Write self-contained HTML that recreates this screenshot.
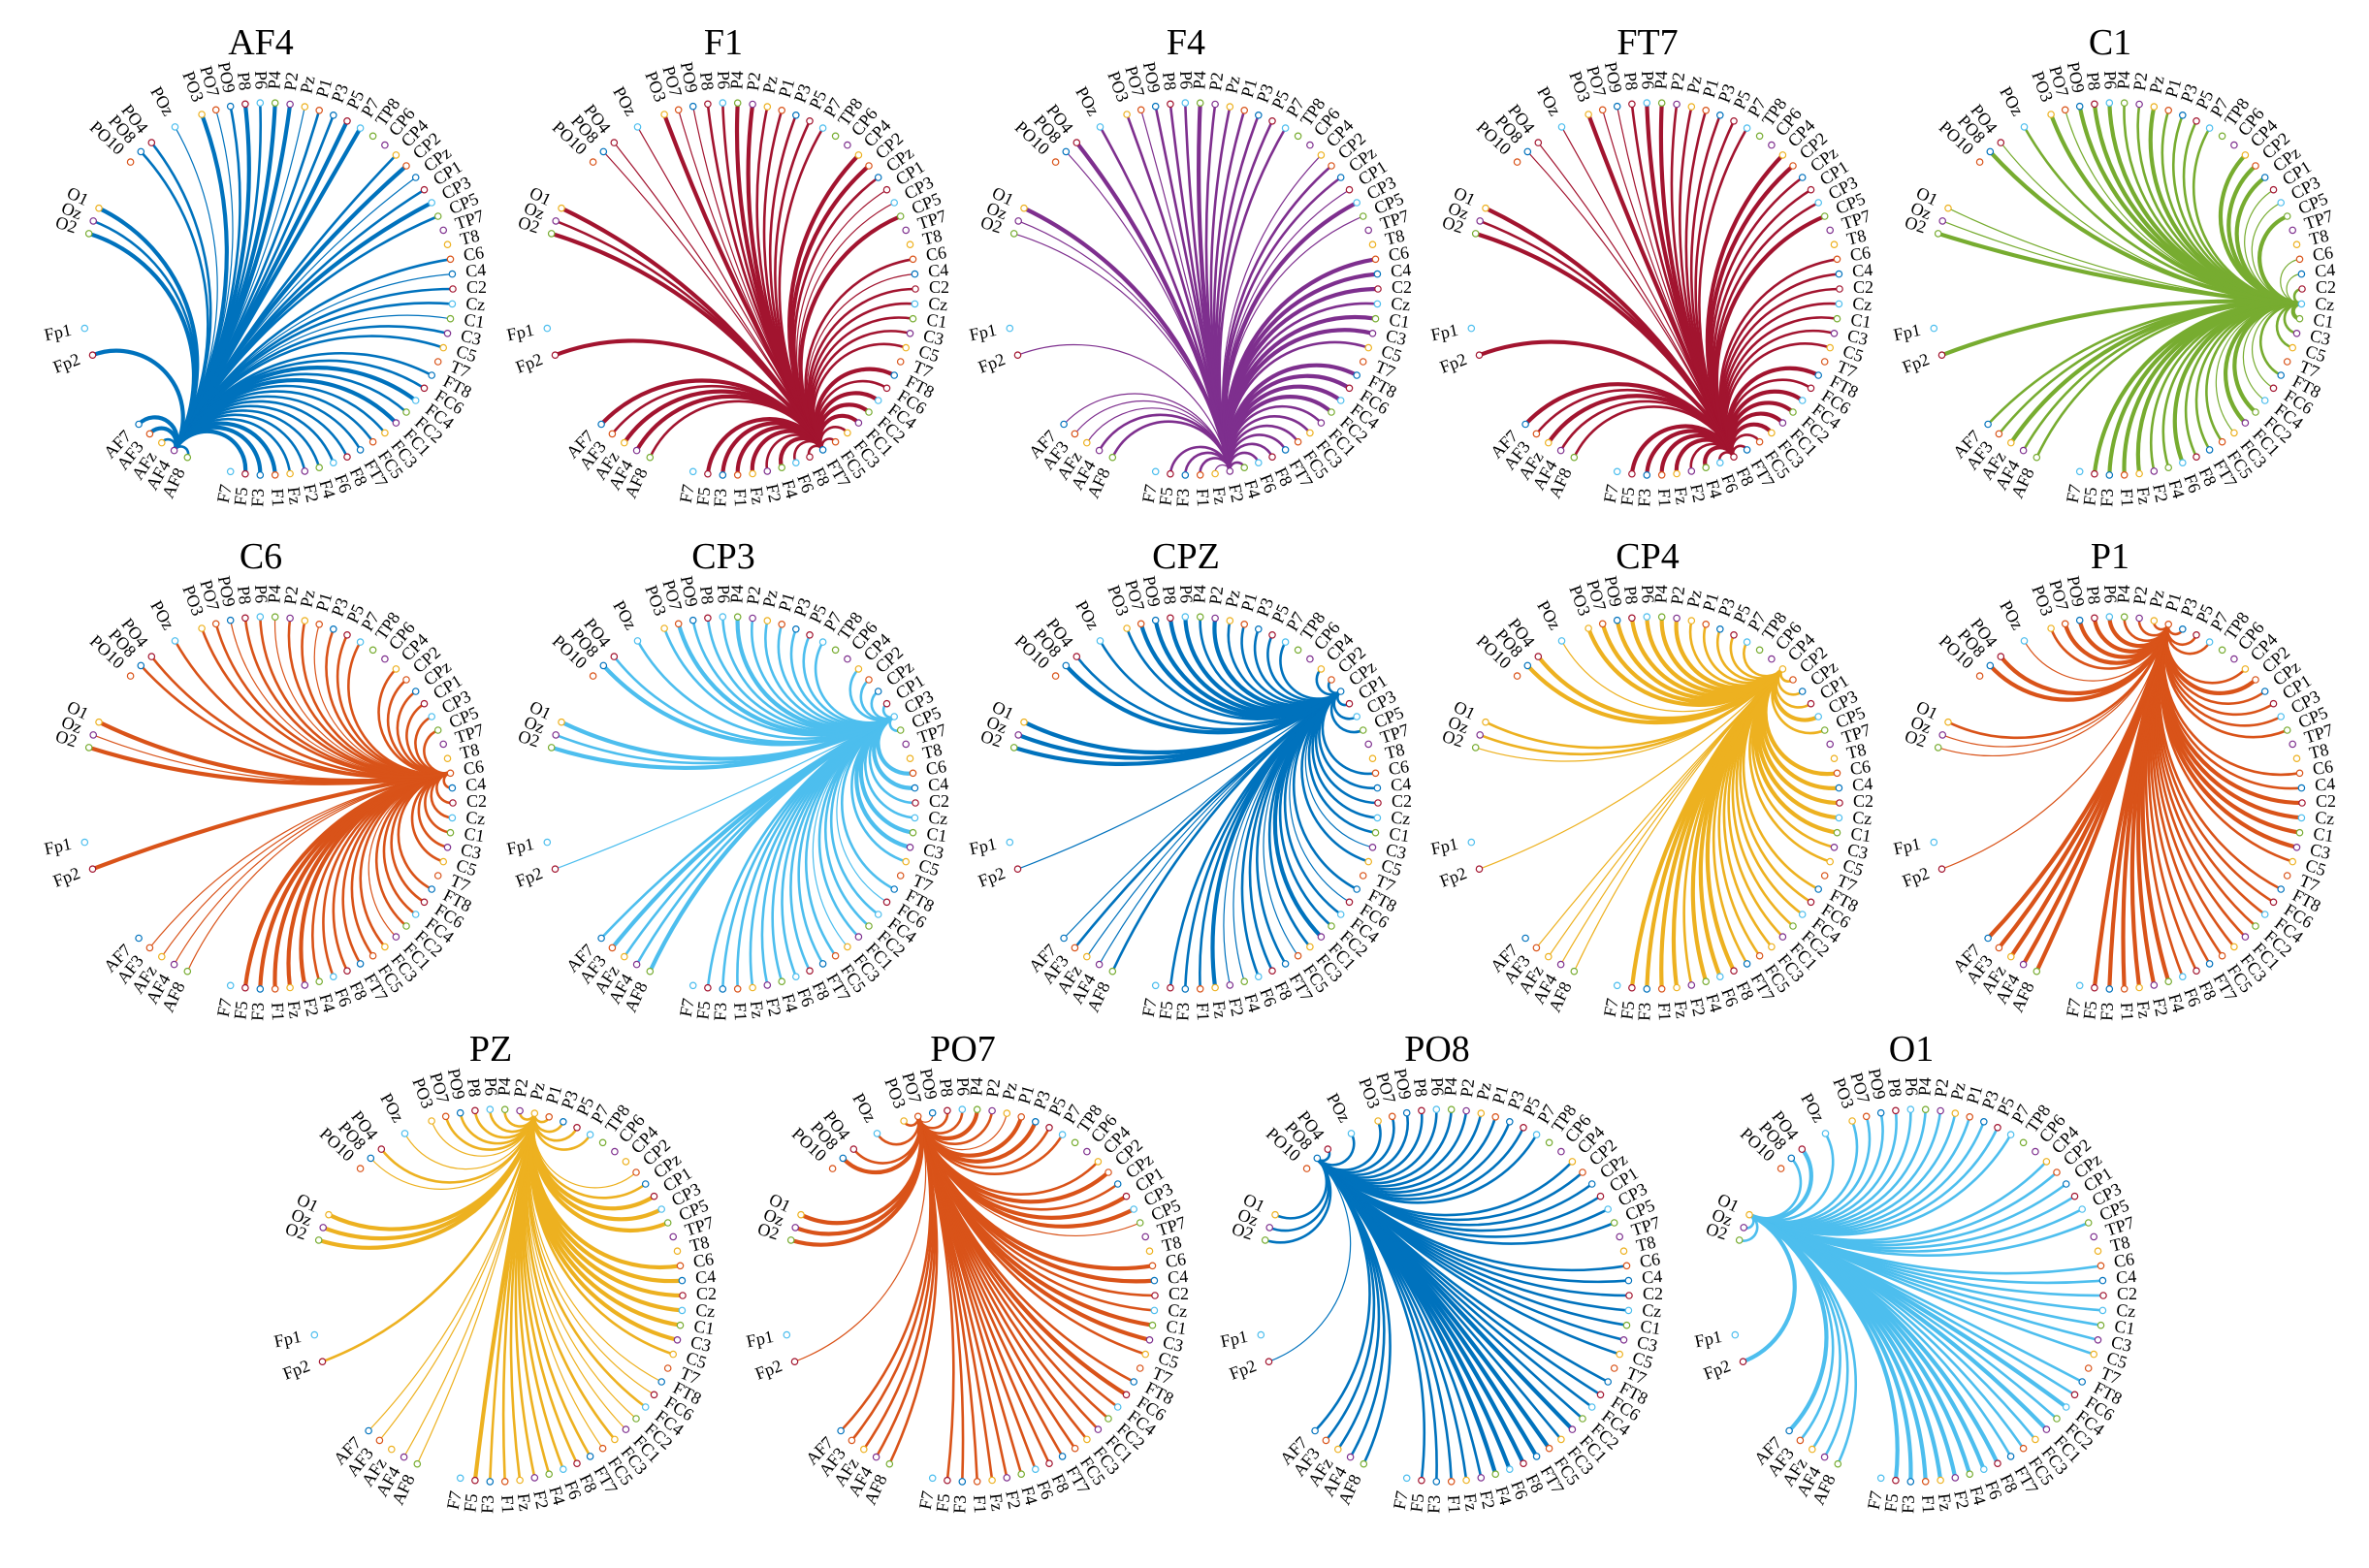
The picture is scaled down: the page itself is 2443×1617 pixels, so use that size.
<!DOCTYPE html>
<html><head><meta charset="utf-8">
<style>
html,body{margin:0;padding:0;background:#fff;}
svg{display:block;}
text{font-family:"Liberation Serif",serif;fill:#000;}
</style></head>
<body>
<svg id="fig" width="2443" height="1617" viewBox="0 0 2443 1617" xmlns="http://www.w3.org/2000/svg"></svg>
<script>
// Electrode categories (circle order)
const electrodes = ["PO3","PO7","PO9","P8","P6","P4","P2","Pz","P1","P3","P5","P7","TP8","CP6","CP4","CP2","CPz","CP1","CP3","CP5","TP7","T8","C6","C4","C2","Cz","C1","C3","C5","T7","FT8","FC6","FC4","FC2","FC1","FC3","FC5","FT7","F8","F6","F4","F2","Fz","F1","F3","F5","F7","AF8","AF4","AFz","AF3","AF7","Fp2","Fp1","O2","Oz","O1","PO10","PO8","PO4","POz"];
// Plot titles and seed electrode index
const plotTitles = ["AF4","F1","F4","FT7","C1","C6","CP3","CPZ","CP4","P1","PZ","PO7","PO8","O1"];
const plotSources = [48,37,41,38,25,22,18,16,14,8,7,1,58,56];
const plotColors = ["#0072BD","#A2142F","#7E2F8E","#A2142F","#77AC30","#D95319","#4DBEEE","#0072BD","#EDB120","#D95319","#EDB120","#D95319","#0072BD","#4DBEEE"];
// Connection strength per electrode (0 = none, 1 thin, 2 medium, 3 thick)
const w_AF4 = [3,1,2,3,2,3,3,1,2,2,3,3, 0,0,2,3,1,2,3,2,0,0, 2,1,2,2,1,2,2,0, 2,2,3,2,3,2,2,2, 2,2,2,2,2,3,3,3,0, 2,0,2,3,3, 3,0, 3,2,3, 0,2,2,1];
const w_F1  = [3,1,1,2,2,3,3,2,2,2,2,2, 0,0,3,3,2,1,1,3,0,0, 2,1,2,2,2,2,2,0, 3,2,3,3,3,2,2,0, 2,2,3,2,3,3,3,3,0, 2,3,3,2,3, 3,0, 3,2,3, 0,1,1,1];
const w_F4  = [2,1,2,2,2,3,2,2,2,2,2,2, 0,0,1,2,2,1,3,1,0,0, 3,3,3,2,3,3,2,0, 3,3,3,3,2,2,2,2, 2,2,2,0,1,2,2,2,0, 2,2,1,1,1, 1,0, 1,1,3, 0,1,3,2];
const w_FT7 = [3,1,1,2,3,3,2,2,2,2,2,2, 0,0,3,3,2,2,2,3,0,0, 2,2,2,2,2,2,2,0, 3,2,3,3,3,3,2,2, 0,2,3,2,3,3,3,3,0, 2,2,3,2,3, 3,0, 3,2,3, 0,1,1,1];
const w_C1  = [3,1,3,3,3,2,2,3,2,2,2,2, 0,0,3,3,3,1,1,3,0,0, 1,1,2,0,3,2,2,0, 2,1,1,3,3,1,2,2, 2,3,2,2,3,3,3,3,0, 2,2,3,2,2, 3,0, 3,1,1, 0,3,1,2];
const w_C6  = [2,2,1,2,2,1,2,2,1,2,2,2, 0,0,2,2,2,2,2,2,0,0, 0,2,2,2,2,2,2,0, 2,2,2,2,1,2,2,2, 2,2,2,3,3,3,3,3,0, 1,1,1,1,0, 3,0, 3,1,3, 0,2,2,2];
const w_CP3 = [2,3,2,2,2,3,2,2,2,2,2,2, 0,0,2,2,2,2,0,2,0,0, 3,3,2,2,3,3,2,0, 2,1,2,2,2,1,2,2, 2,2,2,2,2,2,2,2,0, 3,2,2,3,2, 1,0, 3,2,3, 0,3,2,2];
const w_CPZ = [2,3,3,3,3,2,3,2,2,2,2,2, 0,0,2,2,0,2,2,2,0,0, 2,2,2,2,2,1,2,0, 2,1,2,2,3,2,1,2, 2,2,1,1,3,2,2,2,0, 2,1,1,2,1, 1,0, 3,3,3, 0,3,2,2];
const w_CP4 = [3,3,3,3,3,3,3,2,2,2,2,2, 0,0,0,2,2,2,3,2,0,0, 3,3,3,3,3,2,2,0, 2,2,2,2,2,2,2,2, 3,3,3,2,3,3,3,3,0, 1,1,1,1,0, 1,0, 1,2,2, 0,3,3,1];
const w_P1  = [2,3,3,3,3,2,2,2,0,2,2,2, 0,0,2,3,2,2,2,2,0,0, 2,2,3,3,3,3,2,0, 2,2,2,2,2,2,2,2, 2,2,3,3,3,3,3,3,0, 3,3,3,3,3, 1,0, 1,1,2, 0,3,3,1];
const w_PZ  = [1,2,2,2,2,2,2,0,2,2,2,2, 0,0,0,1,2,3,3,3,0,0, 3,3,3,3,3,3,2,0, 1,1,2,1,1,2,1,2, 2,2,2,2,2,2,2,3,0, 1,1,0,1,1, 2,0, 3,3,3, 0,1,2,1];
const w_PO7 = [2,0,1,2,2,3,2,1,3,3,2,2, 0,0,2,3,2,3,3,1,0,0, 3,3,2,2,3,3,2,0, 2,3,2,2,2,2,2,2, 2,2,2,2,2,2,2,2,0, 2,2,2,2,2, 1,0, 3,3,3, 0,3,2,2];
const w_PO8 = [2,2,2,2,2,2,2,2,2,2,2,2, 0,0,2,2,2,2,2,2,0,0, 2,2,2,2,2,2,2,0, 2,2,2,2,3,2,3,3, 3,3,3,2,2,2,2,2,0, 2,2,2,2,2, 1,0, 2,2,2, 0,0,2,2];
const w_O1  = [2,2,2,2,2,2,2,2,2,2,2,2, 0,0,2,2,2,2,2,2,0,0, 2,2,2,2,2,2,2,0, 2,2,3,2,3,2,2,2, 3,3,3,3,3,3,3,3,0, 2,2,2,2,3, 3,0, 2,2,0, 0,2,3,2];
const plotWeights = [w_AF4,w_F1,w_F4,w_FT7,w_C1,w_C6,w_CP3,w_CPZ,w_CP4,w_P1,w_PZ,w_PO7,w_PO8,w_O1];

// ---- layout ----
const NS = "http://www.w3.org/2000/svg";
const svg = document.getElementById('fig');
const RAD = 192;
const nodeColors = ["#EDB120","#D95319","#0072BD","#A2142F","#4DBEEE","#77AC30","#7E2F8E"];
const extraAngles = {47:115.2,48:119.8,49:124.3,50:128.9,51:133.4,52:159.2,53:167.8,54:197.3,55:201.4,56:205.7,57:223,58:227.5,59:231.8,60:240.5};
function angleOf(i){ return i<=46 ? -110.4 + 4.6*i : extraAngles[i]; }
function widthOf(w){ return w===1?1.2:(w===2?2.6:4.2); }
const centersX = [275,752,1229,1705,2182, 275,752,1229,1705,2182, 512,999,1488,1977];
const centersY = [298,298,298,298,298, 828,828,828,828,828, 1336,1336,1336,1336];

function mk(tag, attrs, parent){
  const e = document.createElementNS(NS, tag);
  for (const k in attrs) e.setAttribute(k, attrs[k]);
  parent.appendChild(e);
  return e;
}

plotTitles.forEach((title, p) => {
  const cx = centersX[p], cy = centersY[p];
  const g = mk('g', {}, svg);
  
  
  const t = mk('text', {x: cx - 6, y: cy - 242, 'font-size': 38, 'text-anchor': 'middle'}, g);
  t.textContent = title;
  
  

  const src = plotSources[p];
  const weights = plotWeights[p];
  const a0 = angleOf(src) * Math.PI/180;
  const ux = Math.cos(a0), uy = Math.sin(a0);
  const lg = mk('g', {fill: 'none', stroke: plotColors[p], 'stroke-linecap': 'round'}, g);
  
  
  weights.forEach((w, i) => {
    if (!w || i === src) return;
    const a1 = angleOf(i) * Math.PI/180;
    const vx = Math.cos(a1), vy = Math.sin(a1);
    let d = angleOf(i) - angleOf(src);
    while (d > 180) d -= 360;
    while (d <= -180) d += 360;
    const x1 = cx + RAD*ux, y1 = cy + RAD*uy, x2 = cx + RAD*vx, y2 = cy + RAD*vy;
    let path;
    if (Math.abs(d) > 178.5) {
      path = `M${x1.toFixed(1)},${y1.toFixed(1)} L${x2.toFixed(1)},${y2.toFixed(1)}`;
    } else {
      const r = RAD * Math.tan(Math.abs(d) * Math.PI / 360);
      const sweep = d > 0 ? 0 : 1;
      path = `M${x1.toFixed(1)},${y1.toFixed(1)} A${r.toFixed(1)},${r.toFixed(1)} 0 0 ${sweep} ${x2.toFixed(1)},${y2.toFixed(1)}`;
    }
    const pe = mk('path', {d: path, 'stroke-width': widthOf(w)}, lg);
    
    
  });

  electrodes.forEach((name, i) => {
    const deg = angleOf(i), a = deg * Math.PI/180;
    const nx = cx + RAD*Math.cos(a), ny = cy + RAD*Math.sin(a);
    const c = mk('circle', {cx: nx.toFixed(1), cy: ny.toFixed(1), r: 3.2, fill: '#fff', stroke: nodeColors[i % 7], 'stroke-width': 1.2}, g);
    
    
    const lr = RAD + 14;
    const lx = cx + lr*Math.cos(a), ly = cy + lr*Math.sin(a);
    let rot = deg, anchor = 'start';
    let nd = ((deg % 360) + 360) % 360;
    if (nd > 90 && nd < 270) { rot = deg + 180; anchor = 'end'; }
    const lt = mk('text', {x: lx.toFixed(1), y: ly.toFixed(1), 'font-size': 18, 'text-anchor': anchor, 'dominant-baseline': 'middle', transform: `rotate(${rot.toFixed(1)} ${lx.toFixed(1)} ${ly.toFixed(1)})`}, g);
    lt.textContent = name;
    
    
  });
});
</script>
</body></html>
